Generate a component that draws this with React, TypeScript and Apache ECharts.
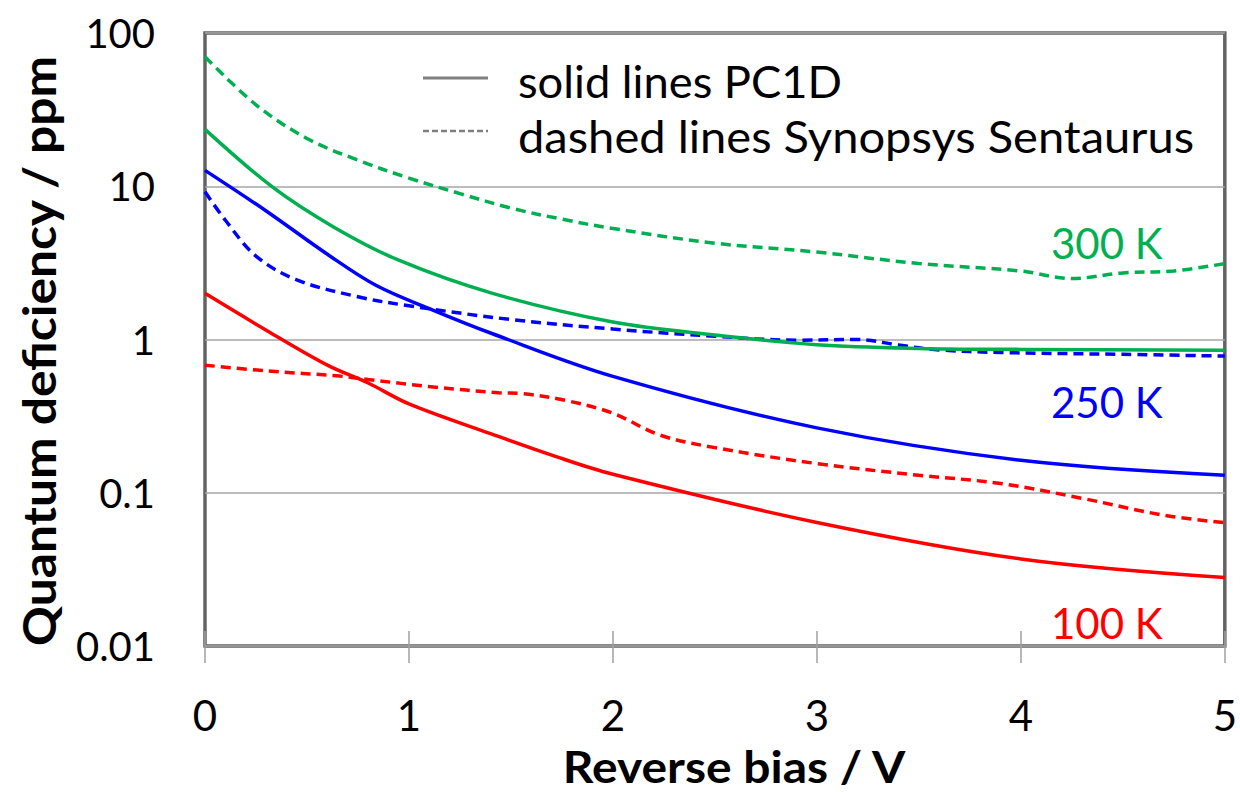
import React, { useEffect, useRef } from "react";
import * as echarts from "echarts";

// Reverse bias (V) / quantum deficiency (ppm)
const xTickValues = [0, 1, 2, 3, 4, 5];
const yTickValues = [0.01, 0.1, 1, 10, 100];

// 300 K
const x300Solid = [0, 0.33, 0.63, 0.95, 1.41, 2, 2.5, 3, 3.5, 4, 5];
const y300Solid = [23.5, 9.9, 5.43, 3.29, 2.0, 1.3, 1.07, 0.925, 0.875, 0.862, 0.85];
const x300Dashed = [0, 0.25, 0.5, 0.75, 1, 1.25, 1.5, 1.75, 2, 2.5, 3, 3.5, 4, 4.25, 4.5, 4.75, 5];
const y300Dashed = [70, 34, 20.5, 14.8, 11.3, 8.96, 7.2, 6.1, 5.3, 4.25, 3.72, 3.13, 2.8, 2.5, 2.72, 2.8, 3.13];

// 250 K
const x250Solid = [0, 0.3, 0.6, 0.84, 1.12, 1.41, 2, 3, 4, 5];
const y250Solid = [12.7, 6.9, 3.6, 2.25, 1.55, 1.09, 0.575, 0.265, 0.163, 0.13];
const x250Dashed = [0, 0.1, 0.25, 0.45, 0.75, 1, 1.5, 2, 2.5, 2.9, 3.2, 3.4, 3.6, 3.9, 4.5, 5];
const y250Dashed = [9.2, 6.0, 3.5, 2.45, 1.9, 1.66, 1.35, 1.17, 1.05, 0.99, 1.0, 0.92, 0.855, 0.823, 0.8, 0.78];

// 100 K
const x100Solid = [0, 0.3, 0.6, 0.8, 1, 1.4, 1.7, 2, 3, 4, 5];
const y100Solid = [2.0, 1.15, 0.68, 0.52, 0.38, 0.243, 0.176, 0.132, 0.064, 0.037, 0.028];
const x100Dashed = [0, 0.3, 0.66, 0.8, 1.12, 1.44, 1.55, 1.77, 2, 2.23, 2.5, 3, 3.5, 3.9, 4.3, 4.7, 5];
const y100Dashed = [0.68, 0.624, 0.577, 0.548, 0.49, 0.449, 0.444, 0.4, 0.33, 0.238, 0.197, 0.155, 0.13, 0.115, 0.092, 0.0714, 0.0637];

const legendTexts = ["solid lines PC1D", "dashed lines Synopsys Sentaurus"];
const curveLabels = ["300 K", "250 K", "100 K"];
const xTitle = "Reverse bias / V";
const yTitle = "Quantum deficiency / ppm";

const GREEN = "#00b050";
const BLUE = "#0000ff";
const RED = "#ff0000";
const FONT = "Lato";

function pairs(xs: number[], ys: number[]) {
  return xs.map((x, i) => [x, ys[i]]);
}

function fmt(v: number) {
  if (v >= 1) return String(Math.round(v));
  return String(parseFloat(v.toPrecision(1)));
}

export default function App() {
  const ref = useRef<HTMLDivElement>(null);
  useEffect(() => {
    const chart = echarts.init(ref.current!, null, { renderer: "svg" });
    const mk = (name: string, xs: number[], ys: number[], color: string, dashed: boolean) => ({
      name,
      type: "line",
      data: pairs(xs, ys),
      showSymbol: false,
      symbol: "none",
      smooth: 0.35,
      lineStyle: { color, width: 3.5, type: dashed ? [10, 6] : "solid" },
      z: dashed ? 3 : 4,
    });
    chart.setOption({
      animation: false,
      backgroundColor: "#ffffff",
      grid: {
        left: 205,
        top: 33,
        right: 14,
        bottom: 146,
        show: true,
        borderColor: "#636363",
        borderWidth: 3.5,
        backgroundColor: "transparent",
      },
      xAxis: {
        type: "value",
        min: xTickValues[0],
        max: xTickValues[xTickValues.length - 1],
        interval: 1,
        position: "bottom",
        offset: -15,
        axisLine: { show: false },
        axisTick: { show: true, inside: false, length: 32, lineStyle: { color: "#a0a0a0", width: 1.5 } },
        axisLabel: { margin: 84, verticalAlign: "middle", fontFamily: FONT, fontSize: 42, color: "#000" },
        splitLine: { show: false },
      },
      yAxis: {
        type: "log",
        logBase: 10,
        min: yTickValues[0],
        max: yTickValues[yTickValues.length - 1],
        axisLine: { show: false },
        axisTick: { show: false },
        axisLabel: { margin: 50, fontFamily: FONT, fontSize: 40, color: "#000", formatter: (v: number) => fmt(v) },
        splitLine: { show: true, lineStyle: { color: "#a6a6a6", width: 1.5 } },
      },
      series: [
        mk("300 K Sentaurus", x300Dashed, y300Dashed, GREEN, true),
        mk("250 K Sentaurus", x250Dashed, y250Dashed, BLUE, true),
        mk("100 K Sentaurus", x100Dashed, y100Dashed, RED, true),
        mk("300 K PC1D", x300Solid, y300Solid, GREEN, false),
        mk("250 K PC1D", x250Solid, y250Solid, BLUE, false),
        mk("100 K PC1D", x100Solid, y100Solid, RED, false),
      ],
      graphic: [
        { type: "line", shape: { x1: 423, y1: 78, x2: 488, y2: 78 }, style: { stroke: "#808080", lineWidth: 3 } },
        { type: "line", shape: { x1: 423, y1: 131, x2: 488, y2: 131 }, style: { stroke: "#808080", lineWidth: 2.5, lineDash: [6, 3] } },
        { type: "text", x: 518, y: 81, scaleX: 1.03, style: { text: legendTexts[0], fontFamily: FONT, fontSize: 44, fill: "#000", verticalAlign: "middle", align: "left" } },
        { type: "text", x: 518, y: 136, scaleX: 1.07, style: { text: legendTexts[1], fontFamily: FONT, fontSize: 44, fill: "#000", verticalAlign: "middle", align: "left" } },
        { type: "text", x: 1051, y: 243, style: { text: curveLabels[0], fontFamily: FONT, fontSize: 42, fill: GREEN, verticalAlign: "middle", align: "left" } },
        { type: "text", x: 1051, y: 402, style: { text: curveLabels[1], fontFamily: FONT, fontSize: 42, fill: BLUE, verticalAlign: "middle", align: "left" } },
        { type: "text", x: 1051, y: 623, style: { text: curveLabels[2], fontFamily: FONT, fontSize: 42, fill: RED, verticalAlign: "middle", align: "left" } },
        { type: "text", x: 734, y: 766, scaleX: 1.09, style: { text: xTitle, fontFamily: FONT, fontSize: 44, fontWeight: "bold", fill: "#000", verticalAlign: "middle", align: "center" } },
        { type: "text", x: 38, y: 351, rotation: Math.PI / 2, scaleX: 1.08, style: { text: yTitle, fontFamily: FONT, fontSize: 46, fontWeight: "bold", fill: "#000", verticalAlign: "middle", align: "center" } },
      ],
    });
    return () => chart.dispose();
  }, []);
  return <div ref={ref} style={{ position: "absolute", left: 0, top: 0, width: 1240, height: 792 }} />;
}
